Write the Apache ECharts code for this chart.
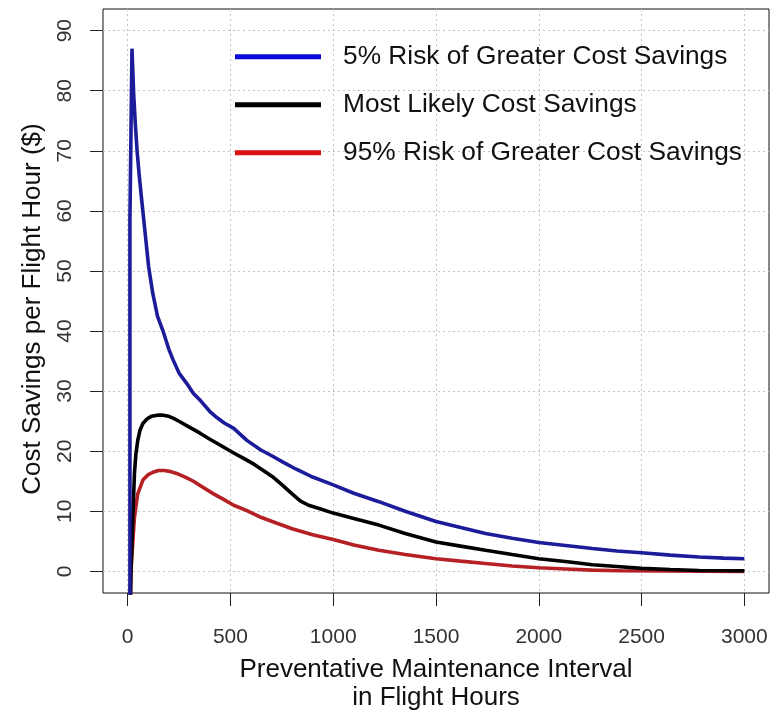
<!DOCTYPE html>
<html>
<head>
<meta charset="utf-8">
<script src="https://cdn.jsdelivr.net/npm/echarts@6/dist/echarts.min.js"></script>
<style>
html,body{margin:0;padding:0;background:#fff;}
#chart{width:778px;height:710px;}
</style>
</head>
<body>
<div id="chart"></div>
<script>
// ---- data ----
const seriesNames = [
  '5% Risk of Greater Cost Savings',
  'Most Likely Cost Savings',
  '95% Risk of Greater Cost Savings'
];
const xTicks = [0, 500, 1000, 1500, 2000, 2500, 3000];
const yTicks = [0, 10, 20, 30, 40, 50, 60, 70, 80, 90];
const xTitle = 'Preventative Maintenance Interval\nin Flight Hours';
const yTitle = 'Cost Savings per Flight Hour ($)';

const blueX = [11, 11, 20, 21, 25, 29, 37, 46, 56, 68, 85, 102, 122, 145, 172, 200, 221, 250, 287, 320, 352, 400, 434, 470, 516, 580, 648, 703, 760, 820, 900, 1000, 1100, 1222, 1350, 1500, 1620, 1741, 1870, 2000, 2130, 2261, 2380, 2500, 2640, 2780, 2900, 3000];
const blueY = [-10, 58.5, 58.5, 87, 87, 79.6, 74.6, 69.9, 66, 61.9, 56.3, 50.7, 46.3, 42.5, 40, 37, 35.2, 33, 31.3, 29.6, 28.5, 26.6, 25.6, 24.7, 23.8, 21.8, 20.2, 19.2, 18.1, 17.0, 15.7, 14.4, 13.0, 11.6, 10.0, 8.3, 7.3, 6.3, 5.5, 4.8, 4.3, 3.8, 3.4, 3.1, 2.7, 2.4, 2.2, 2.1];

const blackX = [10, 16, 22, 25, 33, 40, 49, 60, 74, 95, 115, 145, 172, 200, 221, 254, 300, 352, 400, 451, 516, 560, 616, 660, 703, 754, 800, 841, 880, 928, 1000, 1100, 1222, 1350, 1500, 1620, 1741, 1870, 2000, 2140, 2261, 2380, 2500, 2640, 2780, 3000];
const blackY = [-10, 0, 6, 9, 16.3, 19.5, 21.8, 23.5, 24.6, 25.4, 25.8, 26, 26, 25.8, 25.5, 24.9, 24, 23, 22, 21, 19.7, 18.9, 17.8, 16.8, 15.8, 14.3, 12.9, 11.7, 11, 10.5, 9.7, 8.8, 7.7, 6.3, 4.9, 4.2, 3.5, 2.8, 2.1, 1.6, 1.1, 0.8, 0.5, 0.3, 0.15, 0.1];

const redX = [10, 16, 25, 33, 49, 74, 100, 123, 150, 180, 210, 238, 280, 320, 356, 418, 460, 516, 580, 648, 703, 800, 900, 1000, 1100, 1222, 1350, 1500, 1620, 1741, 1870, 2000, 2130, 2261, 2400, 2600, 3000];
const redY = [-10, 0, 5, 9, 12.9, 15.2, 16.1, 16.5, 16.8, 16.8, 16.6, 16.3, 15.7, 15.0, 14.2, 12.9, 12.1, 11.0, 10.1, 9.0, 8.3, 7.1, 6.1, 5.3, 4.4, 3.5, 2.8, 2.1, 1.7, 1.3, 0.9, 0.6, 0.4, 0.2, 0.1, 0.05, 0];

// ---- layout ----
const W = 778, H = 710;
const xMin = -120, xMax = 3120, yMin = -3.6, yMax = 93.6;
const box = {left: 103, right: 9, top: 9, bottom: 117};
const plotW = W - box.left - box.right, plotH = H - box.top - box.bottom;
const ppx = plotW / (xMax - xMin), ppy = plotH / (yMax - yMin);
const xT0 = xTicks[0], xT1 = xTicks[xTicks.length - 1];
const yT0 = yTicks[0], yT1 = yTicks[yTicks.length - 1];

const FONT = 'Liberation Sans, Arial, sans-serif';
const colors = {blue: '#1c1c9a', black: '#000000', red: '#b52025'};
const legendColors = ['#0a0ad8', '#000000', '#dd1010'];

function zip(xs, ys) { return xs.map((x, i) => [x, ys[i]]); }

const chart = echarts.init(document.getElementById('chart'), null, {renderer: 'canvas'});

const grids = [
  {left: box.left, right: box.right, top: box.top, bottom: box.bottom, show: true, borderColor: '#111', borderWidth: 1, backgroundColor: 'transparent'},
  {left: box.left, right: box.right, top: box.top + (yMax - yT1) * ppy, bottom: box.bottom + (yT0 - yMin) * ppy},
  {left: box.left + (xT0 - xMin) * ppx, right: box.right + (xMax - xT1) * ppx, top: box.top, bottom: box.bottom}
].map(g => Object.assign(g, {containLabel: false, outerBoundsMode: 'none'}));

const gridLineStyle = {color: '#c4c4c4', width: 1, type: [2, 3]};

const option = {
  animation: false,
  backgroundColor: '#ffffff',
  grid: grids,
  xAxis: [
    {gridIndex: 0, type: 'value', min: xMin, max: xMax, show: false},
    {gridIndex: 1, type: 'value', min: xMin, max: xMax, show: false},
    {gridIndex: 2, type: 'value', min: xT0, max: xT1, interval: xTicks[1] - xTicks[0],
      position: 'bottom',
      axisLine: {show: false, onZero: false},
      axisTick: {show: true, inside: false, length: 13, lineStyle: {color: '#222', width: 1}},
      axisLabel: {show: true, margin: 34, color: '#333', fontSize: 21, fontFamily: FONT,
        formatter: v => String(v)},
      splitLine: {show: true, lineStyle: gridLineStyle},
      name: xTitle, nameLocation: 'middle', nameGap: 63, nameMoveOverlap: false,
      nameTextStyle: {fontSize: 26, fontFamily: FONT, color: '#111', lineHeight: 28}
    }
  ],
  yAxis: [
    {gridIndex: 0, type: 'value', min: yMin, max: yMax, show: false},
    {gridIndex: 1, type: 'value', min: yT0, max: yT1, interval: yTicks[1] - yTicks[0],
      position: 'left',
      axisLine: {show: false, onZero: false},
      axisTick: {show: true, inside: false, length: 13, lineStyle: {color: '#222', width: 1}},
      axisLabel: {show: true, rotate: 90, margin: 27, color: '#333', fontSize: 21, fontFamily: FONT,
        formatter: v => String(v)},
      splitLine: {show: true, lineStyle: gridLineStyle},
      name: yTitle, nameLocation: 'middle', nameGap: 57, nameMoveOverlap: false,
      nameTextStyle: {fontSize: 26, fontFamily: FONT, color: '#111', padding: [0, 16, 0, 0]}
    },
    {gridIndex: 2, type: 'value', min: yMin, max: yMax, show: false}
  ],
  legend: {
    orient: 'vertical',
    left: 235, top: 43.7,
    padding: 0,
    itemWidth: 86, itemHeight: 5, itemGap: 22,
    icon: 'rect',
    selectedMode: false,
    itemStyle: {borderWidth: 0},
    textStyle: {fontSize: 26.3, fontFamily: FONT, color: '#111', padding: [0, 0, 0, 17]},
    data: seriesNames.map((n, i) => ({name: n, itemStyle: {color: legendColors[i], borderWidth: 0}}))
  },
  series: [
    {name: seriesNames[2], type: 'line', xAxisIndex: 0, yAxisIndex: 0, data: zip(redX, redY),
      showSymbol: false, symbol: 'none', clip: true, z: 3,
      lineStyle: {color: colors.red, width: 3.6}, itemStyle: {color: colors.red}},
    {name: seriesNames[1], type: 'line', xAxisIndex: 0, yAxisIndex: 0, data: zip(blackX, blackY),
      showSymbol: false, symbol: 'none', clip: true, z: 4,
      lineStyle: {color: colors.black, width: 3.6}, itemStyle: {color: colors.black}},
    {name: seriesNames[0], type: 'line', xAxisIndex: 0, yAxisIndex: 0, data: zip(blueX, blueY),
      showSymbol: false, symbol: 'none', clip: true, z: 5,
      lineStyle: {color: colors.blue, width: 3.6}, itemStyle: {color: colors.blue}}
  ]
};
chart.setOption(option);
</script>
</body>
</html>
